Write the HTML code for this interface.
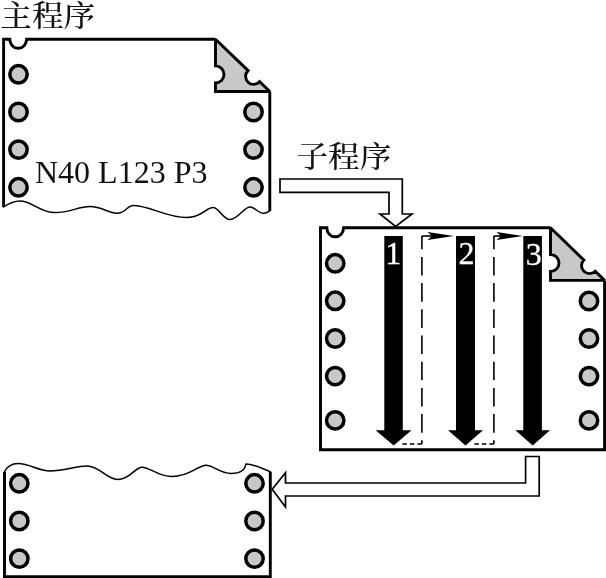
<!DOCTYPE html>
<html lang="zh">
<head>
<meta charset="utf-8">
<title>主程序 子程序</title>
<style>
html,body{margin:0;padding:0;background:#fff;}
body{width:606px;height:578px;overflow:hidden;position:relative;}
svg{position:absolute;left:0;top:0;display:block;}
text{will-change:transform;}
.cjk{font-family:"Liberation Serif","Noto Serif CJK SC",serif;font-size:31.6px;font-weight:500;fill:#111;}
.lat{font-family:"Liberation Serif",serif;font-size:32px;fill:#111;}
.num{font-family:"Liberation Serif",serif;font-size:32px;fill:#fff;stroke:#fff;stroke-width:0.3;text-anchor:middle;}
.doc{fill:none;stroke:#000;stroke-width:2.9;stroke-linejoin:miter;}
.fold{fill:#c8c8c8;stroke:#000;stroke-width:2.9;stroke-linejoin:miter;stroke-miterlimit:2;}
.hole{fill:#c8c8c8;stroke:#000;stroke-width:3.5;}
.wave{fill:none;stroke:#000;stroke-width:1.5;stroke-linecap:round;stroke-linejoin:round;}
.harrow{fill:#fff;stroke:#000;stroke-width:1.7;stroke-linejoin:miter;}
.barrow{fill:#000;stroke:none;}
.dash{fill:none;stroke:#000;stroke-width:1.6;}
</style>
</head>
<body>
<svg width="606" height="578" viewBox="0 0 606 578">
<rect x="0" y="0" width="606" height="578" fill="#fff"/>

<!-- labels -->
<text class="cjk" transform="translate(0.3 26.1) scale(1 0.94)" x="0" y="0">主程序</text>
<text class="cjk" transform="translate(296.5 166.8) scale(1 0.94)" x="0" y="0">子程序</text>

<!-- main program sheet (top) -->
<g id="main-doc">
  <path class="doc" d="M3.6 207 L3.6 39.3 L9.8 39.3 A8.4 9 0 0 0 26.6 39.3 L215.5 39.3 M269.8 91.5 L269.8 211"/>
  <path class="fold" d="M215.5 39.3 L215.5 65.9 A8.5 8.5 0 0 1 215.5 82.9 L215.5 91.5 L269.8 91.5 L259.6 81.7 A8 8 0 1 1 248.1 70.6 Z"/>
  <path class="wave" d="M3.5 207 C8 204,14 201,20 201 C32 201,40 212.6,55 212.6 C70 212.6,78 206.6,90 206.6 C102 206.6,108 213.3,117 213.3 C126 213.3,127 205.4,133 205.4 C150 205.4,165 217.5,187 217.5 C202 217.5,206 207.6,213 207.6 C219 207.6,223 219.5,230 219.5 C238 219.5,244 207,250 207 C255 207,258 213.3,263.7 213.3 C266 213.3,268 212,269.6 211"/>
  <circle class="hole" cx="18.5" cy="74.3" r="8.7"/>
  <circle class="hole" cx="18.5" cy="112" r="8.7"/>
  <circle class="hole" cx="18.5" cy="149.6" r="8.7"/>
  <circle class="hole" cx="18.5" cy="187.3" r="8.7"/>
  <circle class="hole" cx="253.5" cy="112" r="8.7"/>
  <circle class="hole" cx="253.5" cy="149.6" r="8.7"/>
  <circle class="hole" cx="253.5" cy="187.3" r="8.7"/>
  <text class="lat" x="35" y="182.5">N40 L123 P3</text>
</g>

<!-- call arrow -->
<path class="harrow" d="M280 179 L402.3 179 L402.3 214 L412 214 L395.6 226.5 L380 214 L389 214 L389 192.3 L280 192.3 Z"/>

<!-- sub program sheet -->
<g id="sub-doc">
  <path class="doc" d="M550.5 227.8 L343.6 227.8 A8.4 9 0 0 1 326.8 227.8 L320.5 227.8 L320.5 449.7 L604.6 449.7 L604.6 280.4"/>
  <path class="fold" d="M550.5 227.8 L550.5 254.5 A8.5 8.5 0 0 1 550.5 271.5 L550.5 280.4 L604.6 280.4 L595.25 271.2 A8 8 0 1 1 583.8 260 Z"/>
  <circle class="hole" cx="335.2" cy="263.3" r="8.7"/>
  <circle class="hole" cx="335.2" cy="300.8" r="8.7"/>
  <circle class="hole" cx="335.2" cy="338.5" r="8.7"/>
  <circle class="hole" cx="335.2" cy="376.1" r="8.7"/>
  <circle class="hole" cx="335.2" cy="420.4" r="8.7"/>
  <circle class="hole" cx="589" cy="301" r="8.7"/>
  <circle class="hole" cx="589" cy="338.5" r="8.7"/>
  <circle class="hole" cx="589" cy="376.1" r="8.7"/>
  <circle class="hole" cx="589" cy="420.4" r="8.7"/>

  <!-- dashed return paths -->
  <path class="dash" stroke-dasharray="18.6 7.6" stroke-dashoffset="5.3" d="M421.9 236 L421.9 444"/>
  <path class="dash" d="M421.9 236 L440 236"/>
  <path class="barrow" d="M427.5 232 L453.8 236 L427.5 240 L432 236 Z"/>
  <path class="dash" stroke-dasharray="4.5 3" d="M421.9 444 L401 444"/>
  <path class="dash" stroke-dasharray="18.6 7.6" stroke-dashoffset="5.3" d="M493.9 236 L493.9 444"/>
  <path class="dash" d="M493.9 236 L512 236"/>
  <path class="barrow" d="M496.5 232 L522.8 236 L496.5 240 L501 236 Z"/>
  <path class="dash" stroke-dasharray="4.5 3" d="M493.9 444 L473 444"/>

  <!-- black arrows -->
  <path class="barrow" d="M384.3 236 L402.8 236 L402.8 430.3 L411.5 430.3 L393.7 445.5 L375.6 430.3 L384.3 430.3 Z"/>
  <path class="barrow" d="M456 236 L475 236 L475 430.3 L483 430.3 L465.5 445.5 L448 430.3 L456 430.3 Z"/>
  <path class="barrow" d="M523.3 236 L541.9 236 L541.9 430.3 L550 430.3 L532.7 445.5 L515.4 430.3 L523.3 430.3 Z"/>
  <text class="num" x="393.3" y="264.3">1</text>
  <text class="num" x="466.6" y="264.3">2</text>
  <text class="num" x="533.8" y="264.5">3</text>
</g>

<!-- return arrow -->
<path class="harrow" d="M525.6 456.5 L539.2 456.5 L539.2 496 L285.5 496 L285.5 507 L272.2 489.3 L285.5 472.6 L285.5 483 L525.6 483 Z"/>

<!-- main program sheet (bottom) -->
<g id="main-doc-2">
  <path class="doc" d="M4.5 472 L4.5 576.6 L270.3 576.6 L270.3 471.7"/>
  <path class="wave" d="M4.5 472 C6 467,12 463.5,18 463.5 C30 463.5,38 471,50 471 C64 471,76 466,87 466 C100 466,106 479.5,118 479.5 C130 479.5,135 467.2,142 467.2 C150 467.2,158 476.6,171.8 476.6 C190 476.6,198 465.2,206 465.2 C213 465.2,220 473.4,231 473.4 C240 473.4,245 471,245.8 464 C252 464,262 468,270.3 471.7"/>
  <circle class="hole" cx="19.3" cy="483.3" r="8.7"/>
  <circle class="hole" cx="19.3" cy="521" r="8.7"/>
  <circle class="hole" cx="19.3" cy="558.6" r="8.7"/>
  <circle class="hole" cx="254.5" cy="483.3" r="8.7"/>
  <circle class="hole" cx="254.5" cy="521" r="8.7"/>
  <circle class="hole" cx="254.5" cy="558.6" r="8.7"/>
</g>
</svg>
</body>
</html>
